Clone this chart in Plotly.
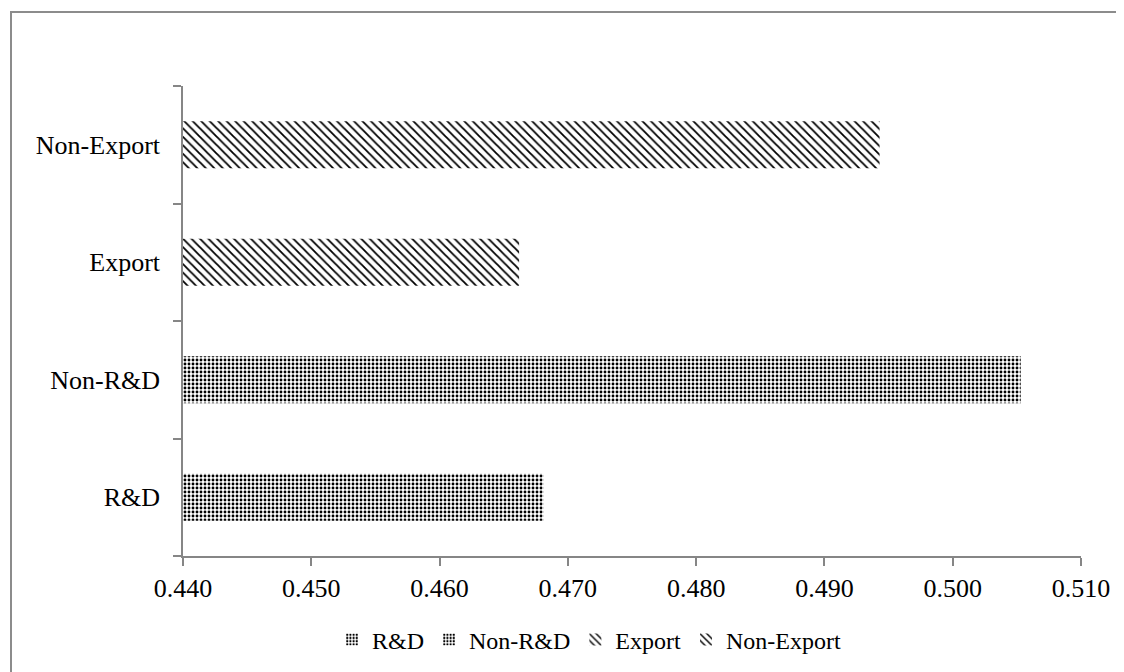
import plotly.graph_objects as go

categories = ["R&D", "Non-R&D", "Export", "Non-Export"]
values = [0.4681, 0.5053, 0.4662, 0.4943]
shapes_pat = [".", ".", "\\", "\\"]
tick_vals = [0.44, 0.45, 0.46, 0.47, 0.48, 0.49, 0.50, 0.51]
tick_text = ["0.440", "0.450", "0.460", "0.470", "0.480", "0.490", "0.500", "0.510"]

W, H = 1124, 672
L, R, T, B = 175, 51, 78, 124
pw, ph = W - L - R, H - T - B
FONT = "Liberation Serif"

fig = go.Figure()
for cat, val, sh in zip(categories, values, shapes_pat):
    fig.add_trace(go.Bar(
        y=[cat], x=[val], orientation="h", name=cat, width=0.4,
        marker=dict(color="white", line=dict(width=0),
                    pattern=dict(shape=sh, fgcolor="black", bgcolor="white",
                                 size=4 if sh == "." else 6,
                                 solidity=0.4 if sh == "." else 0.3,
                                 fillmode="replace")),
    ))

axis_col = "#868686"
fig.update_layout(
    width=W, height=H,
    margin=dict(l=L, r=R, t=T, b=B),
    paper_bgcolor="white", plot_bgcolor="white",
    barmode="overlay",
    font=dict(family=FONT, size=26, color="black"),
    xaxis=dict(range=[0.44, 0.51], tickvals=tick_vals, ticktext=tick_text,
               showgrid=False, zeroline=False, showline=True, linecolor=axis_col,
               linewidth=1.5, ticks="outside", ticklen=8, tickcolor=axis_col,
               tickwidth=1.5, tickfont=dict(family=FONT, size=26)),
    yaxis=dict(categoryorder="array", categoryarray=categories, range=[-0.5, 3.5],
               showgrid=False, zeroline=False, showline=True, linecolor=axis_col,
               linewidth=1.5, ticks="outside", tickson="boundaries", ticklen=8,
               tickcolor=axis_col, tickwidth=1.5, tickfont=dict(family=FONT, size=26),
               ticklabelstandoff=16),
    legend=dict(orientation="h", x=(581 - L) / pw, xanchor="center",
                y=(548 - 632) / ph, yanchor="middle",
                font=dict(family=FONT, size=24, color="black"),
                itemwidth=30, traceorder="normal"),
    showlegend=True,
    shapes=[dict(type="rect", xref="paper", yref="paper",
                 x0=(3 - L) / pw, x1=(1121 - L) / pw,
                 y0=(548 - 670) / ph, y1=(548 - 4) / ph,
                 line=dict(color="#8c8c8c", width=2), fillcolor="rgba(0,0,0,0)",
                 layer="below")],
)

fig.write_html("out.html")
